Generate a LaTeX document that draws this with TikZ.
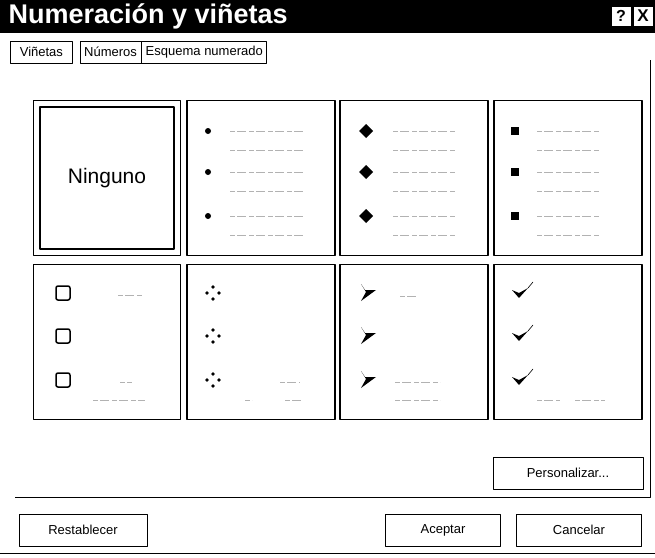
\documentclass[tikz,border=0pt]{standalone}
\usepackage{fontspec}
\setmainfont{Liberation Sans}
\usetikzlibrary{positioning}

\begin{document}
\begin{tikzpicture}[x=1pt,y=-1pt,line join=round,
	cell/.style={draw,line width=1.4pt,minimum width=148pt,minimum height=155pt},
	tab/.style={draw,line width=0.8pt,inner xsep=4pt,minimum height=22pt,font=\fontsize{13}{15}\selectfont},
	btn/.style={draw,line width=1pt,minimum height=32pt,font=\fontsize{13}{15}\selectfont},
	txt/.style={gray!60,line width=0.8pt,dash pattern=on 5pt off 2pt on 9pt off 3pt},
	dot/.style={fill,circle,inner sep=0pt,minimum size=6pt},
	box/.style={draw,line width=1.5pt,minimum size=14pt,rounded corners=2pt,inner sep=0pt},
	main node/.style={font=\fontsize{21}{23}\selectfont}]

	% frame and title bar
	\useasboundingbox (0,0) rectangle (655,557);
	\fill[black] (0,0) rectangle (655,33);
	\node[white,anchor=west,font=\bfseries\fontsize{27}{29}\selectfont] (title) at (5,16) {Numeración y viñetas};
	\node[draw,fill=white,minimum size=20pt,inner sep=0pt,font=\bfseries\fontsize{16}{16}\selectfont] (help) at (621,16) {?};
	\node[draw,fill=white,minimum size=20pt,inner sep=0pt,font=\bfseries\fontsize{17}{17}\selectfont] (close) at (643,16) {X};

	% tabs
	\node[tab,anchor=west,minimum width=62pt] (vin) at (10,52) {Viñetas};
	\node[tab,minimum width=60pt] (num) [right=7pt of vin] {Números};
	\node[tab,minimum width=120pt] (esq) [right=0pt of num] {Esquema numerado};

	% panel
	\draw[line width=1pt] (15,497) -- (650,497) -- (650,60);

	% bullet cells
	\node[cell,minimum width=147pt] (c1) at (107,178) {};
	\node[cell] (c2) at (261,178) {};
	\node[cell] (c3) at (414,178) {};
	\node[cell] (c4) at (568,178) {};
	\node[cell,minimum width=147pt] (d1) at (107,342) {};
	\node[cell] (d2) at (261,342) {};
	\node[cell] (d3) at (414,342) {};
	\node[cell] (d4) at (568,342) {};

	% selected cell
	\draw[line width=1.4pt] (40,107) rectangle (174,249);
	\node[main node] (none) at (107,178) {Ninguno};

	% first row
	\foreach \y in {131,172,216}{
		\node[dot] at (208,\y) {};
		\draw[txt] (230,\y) -- (305,\y);
		\draw[txt] (230,\y+19) -- (305,\y+19);
		\fill (366,\y-7) -- (373,\y) -- (366,\y+7) -- (359,\y) -- cycle;
		\draw[txt] (393,\y) -- (455,\y);
		\draw[txt] (393,\y+19) -- (455,\y+19);
		\fill (511,\y-4) rectangle (519,\y+4);
		\draw[txt] (537,\y) -- (600,\y);
		\draw[txt] (537,\y+19) -- (600,\y+19);
	}

	% second row
	\foreach \y in {293,336,380}{
		\node[box] at (63,\y) {};
		\foreach \dx/\dy in {0/-6,-6/0,6/0,0/6}
			\fill (213+\dx,\y+\dy) circle (1.9pt);
		\fill (361,\y-9) -- (365,\y-3) -- (376,\y-3) -- (361,\y+8) -- (366,\y-1) -- cycle;
		\fill (512,\y-3) -- (519,\y+5) -- (528,\y-5) -- (519,\y) -- cycle;
		\draw[line width=0.6pt] (528,\y-5) -- (533,\y-11);
	}
	\draw[txt] (118,295) -- (142,295);
	\draw[txt] (120,382) -- (132,382);
	\draw[txt] (93,400) -- (145,400);
	\draw[txt] (280,382) -- (300,382);
	\draw[txt] (245,400) -- (252,400);
	\draw[txt] (285,400) -- (303,400);
	\draw[txt] (400,296) -- (418,296);
	\draw[txt] (395,382) -- (440,382);
	\draw[txt] (395,400) -- (440,400);
	\draw[txt] (537,400) -- (560,400);
	\draw[txt] (575,400) -- (605,400);

	% buttons
	\node[btn,minimum width=150pt] (pers) at (568,473) {Personalizar...};
	\node[btn,minimum width=128pt] (rest) at (83,530) {Restablecer};
	\node[btn,minimum width=115pt] (acep) at (443,530) {Aceptar};
	\node[btn,minimum width=125pt] (canc) at (579,530) {Cancelar};
	\draw[line width=1pt] (0,553) -- (655,553);
\end{tikzpicture}
\end{document}
